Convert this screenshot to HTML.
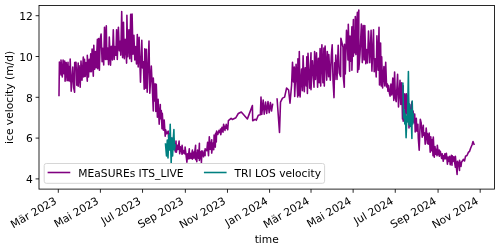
<!DOCTYPE html>
<html><head><meta charset="utf-8"><title>ice velocity</title>
<style>html,body{margin:0;padding:0;background:#fff}body{width:500px;height:248px;overflow:hidden}</style></head>
<body>
<svg width="500" height="248" viewBox="0 0 500 248" style="display:block">
<rect width="500" height="248" fill="#fff"/>
<defs><clipPath id="c"><rect x="39.0" y="5.5" width="455.5" height="183.6"/></clipPath></defs>
<g clip-path="url(#c)" fill="none" stroke-width="1.58" stroke-linejoin="round" stroke-linecap="square">
<path d="M59.0,95.4 L59.4,62.0 L60.0,66.7 L61.0,75.0 L61.0,60.0 L62.3,76.9 L63.1,60.0 L63.9,73.6 L64.7,61.0 L65.1,81.3 L66.2,62.6 L67.1,80.6 L68.0,62.4 L68.6,80.7 L69.5,66.3 L70.1,81.5 L70.2,59.0 L71.2,91.3 L72.8,67.0 L73.7,87.9 L74.6,92.3 L74.7,62.6 L76.0,62.3 L76.8,85.1 L78.2,63.0 L78.2,86.3 L79.1,65.8 L80.2,87.3 L81.0,61.0 L82.0,80.3 L83.3,57.0 L83.7,76.9 L84.5,59.2 L85.2,76.4 L86.0,62.5 L87.3,81.3 L87.3,55.4 L88.5,76.9 L89.2,59.2 L90.1,71.6 L90.7,53.8 L91.4,71.6 L92.1,49.1 L93.3,76.2 L93.8,45.3 L94.7,69.2 L95.3,51.5 L96.1,67.6 L97.4,39.2 L97.7,68.8 L98.7,38.6 L99.4,70.2 L100.2,39.4 L101.1,34.0 L102.1,61.6 L102.8,48.2 L103.7,65.0 L104.5,27.3 L105.4,59.5 L106.3,25.9 L106.9,59.4 L107.8,48.1 L108.6,64.6 L109.3,37.0 L110.5,65.1 L111.3,46.3 L112.4,59.9 L113.3,29.8 L114.2,59.4 L114.9,46.5 L115.9,55.3 L116.6,29.8 L117.3,59.4 L118.4,27.3 L119.3,50.6 L120.1,41.3 L120.8,55.1 L121.7,11.6 L122.6,57.6 L123.5,22.3 L124.3,58.7 L125.2,39.3 L126.6,63.1 L126.9,15.3 L127.8,56.8 L128.9,29.8 L129.7,58.7 L130.7,14.3 L131.5,61.4 L132.1,14.0 L133.0,54.3 L133.9,35.4 L134.8,60.0 L135.6,46.6 L136.5,64.0 L137.3,34.6 L138.2,67.0 L139.1,37.3 L140.5,82.3 L141.8,40.3 L142.5,67.9 L143.3,61.9 L144.2,89.2 L144.8,48.7 L145.7,88.2 L146.4,49.3 L147.2,92.2 L149.0,41.1 L149.8,93.3 L151.3,66.0 L152.2,84.8 L153.3,111.0 L153.3,78.0 L154.3,100.9 L155.1,83.9 L155.8,111.5 L156.3,84.2 L157.4,117.2 L158.1,99.3 L159.2,124.2 L160.3,104.5 L160.4,118.8 L161.3,110.5 L162.0,128.8 L162.3,113.4 L163.4,130.3 L164.2,120.1 L165.2,136.3 L165.6,129.8 L166.6,133.8 L168.2,131.2 L168.6,137.4 L169.3,133.7 L170.2,140.9 L171.0,138.1 L171.7,145.2 L172.4,138.4 L173.1,144.3 L173.7,138.6 L175.4,151.9 L176.0,141.0 L176.4,152.2 L177.3,145.4 L178.0,149.4 L179.1,141.0 L179.7,153.7 L180.5,146.7 L182.1,154.3 L182.1,145.3 L183.0,153.4 L184.0,150.5 L184.9,153.9 L185.1,147.1 L186.9,162.2 L187.4,153.8 L188.1,159.0 L189.3,148.9 L189.3,158.6 L190.3,153.3 L190.9,158.4 L192.4,150.1 L192.4,159.2 L193.3,152.1 L194.0,158.1 L195.6,145.3 L195.6,159.6 L196.3,152.7 L196.8,161.6 L197.5,150.0 L198.6,158.3 L199.4,143.2 L199.4,160.4 L201.0,151.6 L201.4,162.8 L202.0,150.7 L203.5,156.8 L204.2,151.0 L205.1,155.6 L205.1,148.9 L206.8,150.7 L207.6,142.4 L208.5,155.6 L209.3,136.8 L210.2,149.4 L211.7,139.8 L211.7,153.1 L212.9,143.0 L213.7,149.7 L214.1,135.0 L215.3,147.1 L215.6,133.3 L216.3,142.0 L216.6,131.0 L217.8,134.5 L219.0,130.4 L219.9,132.6 L220.5,129.0 L220.8,134.6 L222.0,127.2 L223.0,132.2 L223.6,124.3 L225.0,130.4 L225.3,126.3 L226.1,128.2 L226.2,124.3 L227.7,129.8 L228.4,120.7 L231.1,118.3 L232.3,119.5 L235.9,117.7 L238.3,113.5 L241.3,112.0 L247.4,118.9 L252.4,105.6 L252.7,120.7 L255.3,119.3 L256.3,120.3 L258.3,115.2 L260.4,114.8 L261.0,97.1 L261.8,114.4 L263.2,100.1 L264.2,114.2 L265.6,102.0 L266.7,113.5 L268.0,101.5 L269.2,112.6 L270.4,102.6 L271.5,111.0 L272.6,104.5" stroke="#800080"/>
<path d="M277.1,99.1 L279.5,132.4 L280.5,102.1 L282.5,98.1 L284.6,97.1 L286.6,88.0 L288.6,90.0 L290.0,103.1 L291.6,85.0 L292.5,62.4 L293.4,81.9 L294.3,67.1 L294.7,96.4 L296.1,64.2 L297.7,97.0 L297.9,58.9 L298.6,95.2 L299.3,51.5 L300.1,97.0 L301.6,69.1 L302.4,90.6 L303.1,55.7 L304.3,91.6 L305.2,67.7 L306.2,86.0 L306.8,56.9 L307.4,93.4 L308.0,53.3 L309.6,88.3 L311.0,52.7 L311.0,89.8 L312.5,60.7 L314.0,87.3 L314.6,51.5 L315.5,79.4 L316.5,52.9 L317.6,87.3 L318.4,58.4 L319.2,82.7 L320.1,48.5 L320.7,86.1 L321.9,44.8 L322.9,82.7 L323.9,48.1 L324.3,86.1 L325.1,46.0 L326.7,80.1 L327.3,51.5 L328.6,76.7 L328.8,54.5 L330.3,80.1 L331.3,55.7 L332.2,44.8 L333.0,80.0 L334.0,97.6 L334.7,62.7 L335.0,79.5 L335.8,55.1 L337.0,79.5 L338.2,45.4 L339.3,72.9 L340.6,76.5 L340.9,38.3 L343.0,47.3 L343.3,77.0 L344.3,87.3 L344.5,44.3 L345.3,74.0 L346.5,30.4 L347.2,39.0 L348.0,59.9 L348.3,24.3 L349.6,71.2 L350.0,36.0 L350.7,61.3 L351.9,26.8 L351.9,70.3 L353.4,19.5 L353.4,56.2 L354.1,30.2 L354.7,52.8 L355.3,16.5 L355.9,54.6 L356.5,25.6 L357.4,12.3 L357.6,72.2 L358.8,10.1 L358.8,69.4 L360.0,53.9 L361.4,24.1 L362.3,62.6 L363.2,25.6 L364.1,60.0 L364.8,25.6 L365.8,63.7 L366.6,49.6 L367.5,63.0 L368.5,31.0 L369.8,62.7 L371.1,30.4 L371.9,71.1 L373.5,29.8 L374.2,71.8 L375.2,58.8 L376.2,77.0 L376.9,35.9 L378.1,70.2 L379.0,27.4 L379.5,85.0 L380.6,43.1 L381.2,86.0 L381.7,56.8 L382.6,88.0 L383.9,66.5 L384.8,86.0 L385.7,62.3 L386.6,87.0 L387.4,84.0 L387.9,91.3 L388.6,85.5 L389.4,93.0 L390.1,96.1 L390.9,84.0 L391.8,95.0 L392.8,78.0 L393.8,100.4 L394.6,72.0 L395.4,98.0 L396.2,101.6 L397.6,74.4 L398.5,107.0 L400.0,80.4 L400.8,104.4 L401.7,82.9 L402.5,119.0 L403.2,85.8 L403.2,121.2 L404.8,93.9 L405.8,113.7 L406.5,93.7 L407.3,117.1 L408.2,95.0 L409.0,128.0 L409.9,104.7 L410.7,126.5 L411.9,102.0 L412.3,122.4 L413.1,111.0 L414.0,122.7 L414.7,114.1 L415.2,132.0 L416.3,118.2 L416.9,131.3 L417.9,124.3 L418.3,138.3 L419.2,150.2 L420.3,119.2 L421.2,123.0 L422.2,137.1 L423.3,125.2 L423.7,135.5 L424.5,132.9 L425.2,144.2 L426.2,128.0 L427.4,143.4 L427.4,133.5 L428.3,144.1 L429.2,133.1 L430.2,152.2 L430.8,136.9 L431.5,150.8 L432.3,139.6 L433.0,155.7 L433.3,137.1 L434.3,157.3 L435.0,146.5 L435.7,154.3 L436.4,149.3 L437.0,155.8 L437.3,145.2 L438.4,154.7 L439.2,150.0 L439.3,156.3 L440.3,151.2 L441.6,158.4 L442.2,153.7 L443.3,161.3 L443.6,155.9 L444.2,158.9 L444.9,153.7 L445.7,158.8 L446.4,153.2 L447.4,164.3 L448.0,157.0 L448.6,161.4 L449.6,156.4 L450.2,164.8 L451.4,155.2 L452.0,165.3 L452.3,155.9 L453.0,161.4 L453.8,156.8 L455.4,167.3 L455.4,156.3 L456.2,165.4 L457.1,174.4 L457.5,161.3 L458.6,164.1 L459.5,170.4 L459.5,160.3 L461.0,166.5 L461.5,162.3 L463.5,159.3 L464.5,161.0 L465.5,156.3 L467.0,155.5 L468.5,152.2 L469.5,151.5 L470.6,148.2 L472.0,145.0 L473.0,141.5 L474.0,144.2" stroke="#800080"/>
<path d="M165.5,144.0 L166.5,156.0 L167.3,140.0 L168.0,158.0 L168.8,135.0 L169.5,150.0 L170.2,124.2 L170.8,150.0 L171.2,163.3 L171.8,138.0 L172.6,156.0 L173.2,140.0 L173.9,129.5 L174.4,150.0 L175.2,145.0" stroke="#008080"/>
<path d="M402.9,83.3 L403.6,118.0 L404.2,110.0 L404.8,124.0 L405.4,114.0 L406.1,137.7 L406.9,116.0 L407.5,122.0 L408.4,71.6 L409.0,124.8 L409.6,104.0 L410.3,126.0 L411.0,110.0 L411.9,138.5 L412.2,101.0 L412.8,124.0 L413.3,114.0" stroke="#008080"/>
</g>
<g stroke="#000" stroke-width="0.84">
<line x1="58.30" y1="189.1" x2="58.30" y2="192.79"/>
<line x1="100.42" y1="189.1" x2="100.42" y2="192.79"/>
<line x1="142.54" y1="189.1" x2="142.54" y2="192.79"/>
<line x1="185.35" y1="189.1" x2="185.35" y2="192.79"/>
<line x1="227.47" y1="189.1" x2="227.47" y2="192.79"/>
<line x1="269.59" y1="189.1" x2="269.59" y2="192.79"/>
<line x1="311.02" y1="189.1" x2="311.02" y2="192.79"/>
<line x1="353.14" y1="189.1" x2="353.14" y2="192.79"/>
<line x1="395.26" y1="189.1" x2="395.26" y2="192.79"/>
<line x1="438.07" y1="189.1" x2="438.07" y2="192.79"/>
<line x1="480.20" y1="189.1" x2="480.20" y2="192.79"/>
<line x1="39.0" y1="178.90" x2="35.60" y2="178.90"/>
<line x1="39.0" y1="138.10" x2="35.60" y2="138.10"/>
<line x1="39.0" y1="97.30" x2="35.60" y2="97.30"/>
<line x1="39.0" y1="56.50" x2="35.60" y2="56.50"/>
<line x1="39.0" y1="15.70" x2="35.60" y2="15.70"/>
</g>
<rect x="39.0" y="5.5" width="455.50" height="183.60" fill="none" stroke="#000" stroke-width="0.84"/>
<g font-family="'DejaVu Sans','Liberation Sans',sans-serif" font-size="10.7px" fill="#000">
<text transform="translate(32.9,183.10) scale(1,1.045)" text-anchor="end">4</text>
<text transform="translate(32.9,142.30) scale(1,1.045)" text-anchor="end">6</text>
<text transform="translate(32.9,101.50) scale(1,1.045)" text-anchor="end">8</text>
<text transform="translate(32.9,60.70) scale(1,1.045)" text-anchor="end">10</text>
<text transform="translate(32.9,19.90) scale(1,1.045)" text-anchor="end">12</text>
<text transform="translate(57.30,203.1) rotate(-30)" text-anchor="end">Mär 2023</text>
<text transform="translate(99.42,203.1) rotate(-30)" text-anchor="end">Mai 2023</text>
<text transform="translate(141.54,203.1) rotate(-30)" text-anchor="end">Jul 2023</text>
<text transform="translate(184.35,203.1) rotate(-30)" text-anchor="end">Sep 2023</text>
<text transform="translate(226.47,203.1) rotate(-30)" text-anchor="end">Nov 2023</text>
<text transform="translate(268.59,203.1) rotate(-30)" text-anchor="end">Jan 2024</text>
<text transform="translate(310.02,203.1) rotate(-30)" text-anchor="end">Mär 2024</text>
<text transform="translate(352.14,203.1) rotate(-30)" text-anchor="end">Mai 2024</text>
<text transform="translate(394.26,203.1) rotate(-30)" text-anchor="end">Jul 2024</text>
<text transform="translate(437.07,203.1) rotate(-30)" text-anchor="end">Sep 2024</text>
<text transform="translate(479.20,203.1) rotate(-30)" text-anchor="end">Nov 2024</text>
<text transform="translate(266.75,242.7) scale(1,1.045)" text-anchor="middle">time</text>
<text transform="translate(13.3,97.4) rotate(-90)" text-anchor="middle">ice velocity (m/d)</text>
<rect x="44.2" y="163.5" width="280.4" height="19.8" rx="2.1" fill="#fff" fill-opacity="0.8" stroke="#d6d6d6" stroke-width="1"/>
<line x1="48.4" y1="172.5" x2="69.5" y2="172.5" stroke="#800080" stroke-width="1.58" stroke-linecap="square"/>
<text transform="translate(78.3,176.6) scale(1,1.045)">MEaSUREs ITS_LIVE</text>
<line x1="204.7" y1="172.5" x2="225.8" y2="172.5" stroke="#008080" stroke-width="1.58" stroke-linecap="square"/>
<text transform="translate(234.5,176.6) scale(1,1.045)">TRI LOS velocity</text>
</g></svg>
</body></html>
